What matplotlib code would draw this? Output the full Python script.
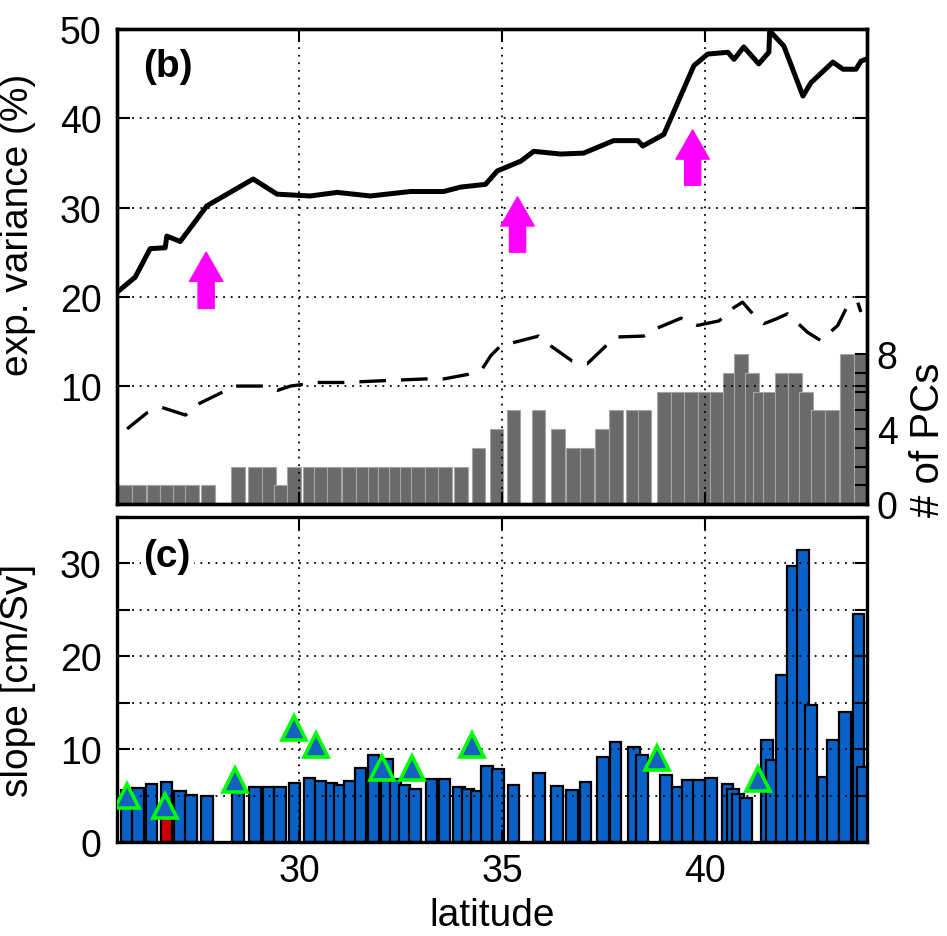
import matplotlib
matplotlib.use('Agg')
import matplotlib.pyplot as plt
import numpy as np

plt.rcParams['font.family'] = ['Liberation Sans', 'DejaVu Sans']

# ---------------- data ----------------
# explained variance (solid line), panel (b)
var_lat = [25.50, 25.95, 26.32, 26.69, 26.73, 27.06, 27.72, 28.86, 29.45, 30.27, 30.93,
           31.75, 32.74, 33.56, 33.98, 34.59, 34.88, 35.46, 35.78, 36.44, 37.01, 37.75,
           38.35, 38.47, 38.99, 39.23, 39.73, 40.07, 40.57, 40.72, 40.96, 41.33, 41.58,
           41.60, 41.95, 42.42, 42.62, 43.16, 43.41, 43.73, 43.85, 44.02]
var_val = [20.5, 22.2, 25.4, 25.5, 26.8, 26.2, 30.2, 33.2, 31.5, 31.3, 31.7,
           31.3, 31.8, 31.8, 32.3, 32.6, 34.1, 35.2, 36.3, 36.0, 36.1, 37.5,
           37.5, 36.9, 38.2, 40.7, 45.9, 47.2, 47.4, 46.6, 48.0, 46.1, 47.4,
           49.8, 48.1, 42.5, 44.0, 46.3, 45.5, 45.5, 46.4, 46.7]

# dashed line, panel (b)
dash_lat = [25.75, 26.24, 26.61, 27.19, 27.51, 28.05, 28.42, 29.11, 29.45, 29.78, 30.44,
            31.09, 32.07, 33.11, 33.56, 34.15, 34.52, 34.72, 34.96, 35.90, 36.20, 36.73,
            37.10, 37.56, 37.84, 38.49, 38.83, 39.41, 39.82, 40.35, 40.72, 40.93, 41.26,
            41.46, 41.75, 42.04, 42.54, 42.86, 43.28, 43.52, 43.77, 43.85]
dash_val = [5.2, 7.0, 7.6, 6.75, 8.0, 9.2, 10.0, 10.0, 9.5, 10.0, 10.4,
            10.4, 10.6, 10.8, 10.8, 11.3, 12.0, 13.4, 14.5, 15.6, 14.5, 12.8,
            12.5, 14.5, 15.5, 15.6, 16.5, 17.6, 16.8, 17.3, 18.8, 19.4, 17.7,
            17.0, 17.5, 18.1, 16.0, 15.1, 16.8, 19.0, 19.4, 18.3]

# number of PCs (grey bars), panel (b)
pc_lat = [25.70, 26.05, 26.40, 26.73, 27.05, 27.36, 27.75, 28.49, 28.91, 29.25, 29.54,
          29.86, 30.25, 30.54, 30.85, 31.22, 31.57, 31.85, 32.12, 32.37, 32.64, 32.93,
          33.27, 33.60, 33.99, 34.42, 34.86, 35.28, 35.90, 36.37, 36.74, 37.09, 37.47,
          37.81, 38.23, 38.51, 39.00, 39.33, 39.65, 39.99, 40.31, 40.62, 40.90, 41.16,
          41.36, 41.60, 41.91, 42.22, 42.49, 42.80, 43.14, 43.50, 43.86]
n_pcs = [1, 1, 1, 1, 1, 1, 1, 2, 2, 2, 1,
         2, 2, 2, 2, 2, 2, 2, 2, 2, 2, 2,
         2, 2, 2, 3, 4, 5, 5, 4, 3, 3, 4,
         5, 5, 5, 6, 6, 6, 6, 6, 7, 8, 7,
         6, 6, 7, 7, 6, 5, 5, 8, 8]

# magenta arrows, panel (b)
arrow_lat = [27.70, 35.38, 39.70]
arrow_tip = [25.0, 31.2, 38.7]
arrow_base = [18.7, 25.0, 32.5]

# slope (blue bars), panel (c)
slope_lat = [25.75, 26.01, 26.35, 26.72, 27.06, 27.33, 27.73, 28.49, 28.91, 29.24, 29.52,
             29.88, 30.25, 30.52, 30.79, 31.01, 31.24, 31.51, 31.83, 32.17, 32.37, 32.59,
             32.86, 33.26, 33.58, 33.93, 34.15, 34.37, 34.62, 34.89, 35.28, 35.91, 36.36,
             36.72, 37.06, 37.49, 37.80, 38.26, 38.46, 39.04, 39.33, 39.58, 39.85, 40.15,
             40.56, 40.69, 40.82, 41.01, 41.53, 41.65, 41.90, 42.17, 42.43, 42.62, 42.94,
             43.17, 43.46, 43.79, 43.90]
slope_val = [5.6, 5.8, 6.25, 6.5, 5.5, 5.1, 5.0, 5.9, 5.9, 5.9, 5.9,
             6.35, 6.9, 6.6, 6.4, 6.1, 6.6, 8.0, 9.4, 8.9, 6.8, 6.1,
             5.7, 6.8, 6.8, 5.9, 5.7, 5.5, 8.2, 7.9, 6.1, 7.4, 6.0,
             5.6, 6.5, 9.2, 10.8, 10.25, 9.4, 7.2, 5.9, 6.65, 6.65, 6.9,
             6.3, 5.75, 5.2, 4.7, 11.0, 8.8, 18.0, 29.7, 31.4, 14.75, 7.0,
             11.0, 14.0, 24.5, 8.1]

# highlighted (red) bar, panel (c)
red_lat = [26.72]
red_val = [4.0]

# triangles, panel (c)
tri_lat = [25.75, 26.69, 28.42, 29.86, 30.41, 32.04, 32.78, 34.25, 38.81, 41.32]
tri_val = [5.0, 3.9, 6.7, 12.3, 10.4, 8.0, 8.0, 10.5, 9.0, 6.8]

var_ticks = [10, 20, 30, 40, 50]
pc_ticks = [0, 1, 2, 3, 4, 5, 6, 7, 8]
pc_ticklabels = ['0', '', '', '', '4', '', '', '', '8']
slope_ticks = [0, 5, 10, 15, 20, 25, 30, 35]
slope_ticklabels = ['0', '', '10', '', '20', '', '30', '']
lat_ticks = [30, 35, 40]

# ---------------- figure ----------------
FS = 28     # axis labels
TFS = 27    # tick labels
fig = plt.figure(figsize=(9.47, 9.37), dpi=100)

grid_kw = dict(color='k', linestyle=(0, (1, 3.2)), linewidth=1.3)

# panel (b)
ax = fig.add_axes([0.1235, 0.4610, 0.7920, 0.5069])
ax2 = ax.twinx()
ax.set_zorder(ax2.get_zorder() + 1)
ax.patch.set_visible(False)

ax2.bar(pc_lat, n_pcs, width=0.34, color='#6a6a6a', edgecolor='#a5a5a5',
        linewidth=0.8, zorder=1)
ax2.set_ylim(0, 25.33)
ax2.set_yticks(pc_ticks)
ax2.set_yticklabels(pc_ticklabels)
ax2.tick_params(axis='y', direction='in', length=9, width=1.5, labelsize=TFS, pad=7)

ax.plot(var_lat, var_val, color='k', lw=3.6, zorder=4)
ax.plot(dash_lat, dash_val, color='k', lw=2.4, ls=(0, (8, 4.5)), zorder=4)

for lat, tip, base in zip(arrow_lat, arrow_tip, arrow_base):
    ax.annotate('', xy=(lat, tip), xytext=(lat, base),
                arrowprops=dict(arrowstyle='simple,head_length=1.05,head_width=1.2,tail_width=0.58',
                                color='#ff00ff', shrinkA=0, shrinkB=0, mutation_scale=20),
                zorder=5)

ax.set_xlim(25.5, 44)
ax.set_ylim(-3.22, 50)
ax.set_yticks(var_ticks)
ax.set_xticks(lat_ticks)
ax.set_xticklabels([])
ax.set_axisbelow(False)
ax.grid(True, **grid_kw)
ax.tick_params(axis='both', direction='in', length=9, width=1.5, labelsize=TFS,
               top=True, right=True, pad=11)
ax.set_ylabel('exp. variance (%)', fontsize=FS)
ax.yaxis.set_label_coords(-0.108, 0.59)
ax.text(0.068, 0.922, '(b)', transform=ax.transAxes, fontsize=FS, fontweight='bold',
        ha='center', va='center', zorder=6)
for a in (ax, ax2):
    for s in a.spines.values():
        s.set_linewidth(2.4)

fig.text(928 / 947, 1 - 440 / 937, '# of PCs', rotation=90, ha='center', va='center',
         fontsize=29)

# panel (c)
ax3 = fig.add_axes([0.1235, 0.1003, 0.7920, 0.3469])
ax3.bar(slope_lat, slope_val, width=0.29, color='#0a62c8', edgecolor='k',
        linewidth=1.6, zorder=2)
ax3.bar(red_lat, red_val, width=0.29, color='#cc0000', edgecolor='k',
        linewidth=1.6, zorder=2.2)
ax3.plot(tri_lat, tri_val, ls='none', marker='^', ms=17, mfc='#1560c0',
         mec='#00ff00', mew=2.6, zorder=5)
ax3.set_xlim(25.5, 44)
ax3.set_ylim(0, 35)
ax3.set_yticks(slope_ticks)
ax3.set_yticklabels(slope_ticklabels)
ax3.set_xticks(lat_ticks)
ax3.set_axisbelow(False)
ax3.grid(True, **grid_kw)
ax3.tick_params(axis='y', direction='in', length=9, width=1.5, labelsize=TFS,
                right=True, pad=11)
ax3.tick_params(axis='x', direction='in', length=9, width=1.5, labelsize=TFS,
                top=True, pad=8)
ax3.set_ylabel('slope [cm/Sv]', fontsize=FS)
ax3.yaxis.set_label_coords(-0.108, 0.5)
ax3.set_xlabel('latitude', fontsize=FS)
ax3.xaxis.set_label_coords(0.5, -0.168)
ax3.xaxis.label.set_va('top')
ax3.text(0.067, 0.88, '(c)', transform=ax3.transAxes, fontsize=FS, fontweight='bold',
         ha='center', va='center', zorder=6,
         bbox=dict(facecolor='white', edgecolor='none', pad=2))
for s in ax3.spines.values():
    s.set_linewidth(2.4)

fig.savefig('out.png', dpi=100)
